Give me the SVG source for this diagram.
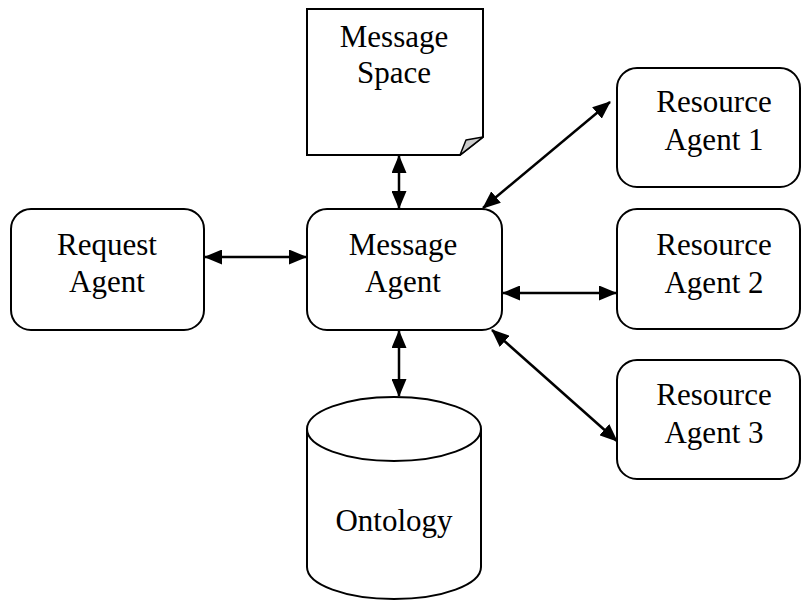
<svg xmlns="http://www.w3.org/2000/svg" width="801" height="600" viewBox="0 0 801 600">
  <defs>
    <style>
      .box { fill: #fff; stroke: #000; stroke-width: 2; }
      .lbl { font-size: 31px; fill: #000; text-anchor: middle; }
      .link { stroke: #000; stroke-width: 2.5; fill: none; marker-start: url(#head); marker-end: url(#head); }
    </style>
    <marker id="head" viewBox="0 0 18 15" refX="17" refY="7.5" markerWidth="18" markerHeight="15" markerUnits="userSpaceOnUse" orient="auto-start-reverse">
      <path d="M0,0 L18,7.5 L0,15 Z" fill="#000"/>
    </marker>
  </defs>
  <rect width="801" height="600" fill="#fff"/>

  <g font-family="'Liberation Serif', 'DejaVu Serif', serif">
    <g id="message-space">
      <path class="box" d="M307,9 H483 V137 L460,155 H307 Z"/>
      <path d="M483,137 L460,155 L466,140 Z" fill="#ccc" stroke="#000" stroke-width="1.5" stroke-linejoin="round"/>
      <text class="lbl" x="394" y="47">Message</text>
      <text class="lbl" x="394" y="83">Space</text>
    </g>

    <g id="request-agent">
      <rect class="box" x="11" y="209" width="193" height="121" rx="20"/>
      <text class="lbl" x="107" y="255">Request</text>
      <text class="lbl" x="107" y="292">Agent</text>
    </g>

    <g id="message-agent">
      <rect class="box" x="307" y="209" width="195" height="121" rx="20"/>
      <text class="lbl" x="403" y="255">Message</text>
      <text class="lbl" x="403" y="292">Agent</text>
    </g>

    <g id="resource-agent-1">
      <rect class="box" x="617" y="68" width="183" height="119" rx="20"/>
      <text class="lbl" x="714" y="112">Resource</text>
      <text class="lbl" x="714" y="150">Agent 1</text>
    </g>

    <g id="resource-agent-2">
      <rect class="box" x="617" y="209" width="183" height="120" rx="20"/>
      <text class="lbl" x="714" y="255">Resource</text>
      <text class="lbl" x="714" y="293">Agent 2</text>
    </g>

    <g id="resource-agent-3">
      <rect class="box" x="617" y="360" width="183" height="119" rx="20"/>
      <text class="lbl" x="714" y="405">Resource</text>
      <text class="lbl" x="714" y="443">Agent 3</text>
    </g>

    <g id="ontology">
      <path class="box" d="M307,429 V567 A87,32 0 0 0 481,567 V429"/>
      <ellipse class="box" cx="394" cy="429" rx="87" ry="32"/>
      <text class="lbl" x="394" y="531">Ontology</text>
    </g>
  </g>

  <g id="connectors">
    <line class="link" x1="205" y1="257" x2="306" y2="257"/>
    <line class="link" x1="399" y1="156" x2="399" y2="208"/>
    <line class="link" x1="399" y1="331" x2="399" y2="396"/>
    <line class="link" x1="503" y1="293" x2="616" y2="293"/>
    <line class="link" x1="483" y1="208" x2="610" y2="102"/>
    <line class="link" x1="492" y1="330" x2="617" y2="441"/>
  </g>
</svg>
